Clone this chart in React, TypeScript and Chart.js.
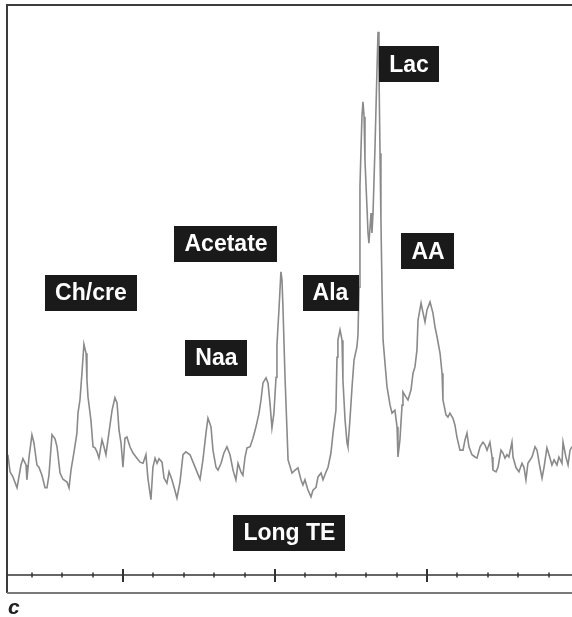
import React, { useEffect, useRef } from "react";
import { Chart, registerables } from "chart.js";

Chart.register(...registerables);

// Chemical shift (ppm) of each sample, left to right
const ppm = [
  3.757, 3.743, 3.724, 3.697, 3.671, 3.658, 3.638, 3.632, 3.618, 3.599,
  3.586, 3.566, 3.553, 3.533, 3.513, 3.5, 3.487, 3.467, 3.447, 3.434,
  3.414, 3.395, 3.368, 3.355, 3.342, 3.322, 3.303, 3.296, 3.283, 3.27,
  3.257, 3.243, 3.237, 3.23, 3.211, 3.197, 3.184, 3.171, 3.158, 3.138,
  3.125, 3.112, 3.099, 3.072, 3.053, 3.039, 3.026, 3.013, 3.0, 2.987,
  2.974, 2.954, 2.934, 2.908, 2.888, 2.868, 2.849, 2.836, 2.816, 2.803,
  2.789, 2.776, 2.763, 2.743, 2.73, 2.711, 2.697, 2.678, 2.664, 2.645,
  2.625, 2.605, 2.586, 2.559, 2.539, 2.513, 2.493, 2.474, 2.454, 2.441,
  2.421, 2.408, 2.388, 2.375, 2.355, 2.336, 2.316, 2.296, 2.276, 2.257,
  2.243, 2.224, 2.211, 2.197, 2.184, 2.164, 2.145, 2.125, 2.105, 2.092,
  2.079, 2.059, 2.046, 2.033, 2.02, 2.007, 1.993, 1.987, 1.974, 1.961,
  1.954, 1.947, 1.934, 1.921, 1.914, 1.888, 1.868, 1.849, 1.829, 1.816,
  1.803, 1.783, 1.763, 1.75, 1.73, 1.717, 1.697, 1.684, 1.664, 1.651,
  1.632, 1.618, 1.599, 1.592, 1.586, 1.572, 1.559, 1.553, 1.539, 1.526,
  1.52, 1.507, 1.493, 1.48, 1.461, 1.454, 1.447, 1.441, 1.428, 1.421,
  1.414, 1.408, 1.395, 1.388, 1.382, 1.368, 1.362, 1.355, 1.342, 1.329,
  1.322, 1.316, 1.309, 1.303, 1.296, 1.289, 1.263, 1.243, 1.23, 1.211,
  1.197, 1.191, 1.178, 1.164, 1.158, 1.138, 1.125, 1.105, 1.092, 1.079,
  1.066, 1.059, 1.039, 1.026, 1.013, 1.0, 0.98, 0.961, 0.947, 0.934,
  0.914, 0.901, 0.895, 0.875, 0.862, 0.849, 0.829, 0.816, 0.803, 0.783,
  0.763, 0.75, 0.737, 0.724, 0.704, 0.684, 0.671, 0.651, 0.632, 0.618,
  0.605, 0.586, 0.572, 0.566, 0.546, 0.533, 0.513, 0.5, 0.487, 0.474,
  0.461, 0.441, 0.434, 0.414, 0.395, 0.375, 0.362, 0.349, 0.336, 0.309,
  0.289, 0.276, 0.257, 0.243, 0.23, 0.211, 0.197, 0.178, 0.164, 0.145,
  0.132, 0.112, 0.105, 0.086, 0.072, 0.059, 0.046,
];

// Signal intensity (arbitrary units, 0-100)
const intensity = [
  21.1, 18.1, 17.2, 15.3, 19.3, 20.4, 19.3, 16.7, 20.7, 24.6,
  23.2, 19.3, 18.9, 17.5, 15.3, 15.3, 17.5, 24.6, 23.9, 22.5,
  17.9, 16.8, 16.3, 15.3, 18.4, 21.6, 24.9, 28.4, 30.7, 35.4,
  40.5, 38.9, 34.2, 31.2, 27.2, 22.5, 22.3, 21.6, 20.5, 23.7,
  22.5, 21.1, 23.7, 28.9, 31.1, 30.2, 25.4, 23.2, 18.9, 24.0,
  24.2, 22.5, 21.4, 20.5, 19.8, 19.6, 21.1, 17.0, 13.2, 18.9,
  20.5, 19.6, 20.4, 19.8, 17.0, 16.1, 18.1, 16.7, 15.4, 13.5,
  16.3, 21.1, 21.6, 21.1, 19.8, 18.1, 16.8, 20.2, 24.9, 27.5,
  26.0, 21.9, 18.9, 18.4, 19.6, 21.4, 22.5, 21.1, 18.4, 16.7,
  19.6, 18.1, 17.5, 20.7, 22.3, 22.5, 24.0, 26.0, 28.4, 30.7,
  33.7, 34.6, 33.7, 30.2, 25.8, 28.4, 34.7, 40.4, 46.5, 53.2,
  51.8, 46.5, 34.7, 25.4, 20.2, 17.9, 18.4, 18.8, 16.7, 15.8,
  16.7, 14.9, 13.7, 14.9, 15.4, 17.2, 17.9, 16.7, 18.1, 18.9,
  21.4, 24.9, 28.9, 38.2, 41.2, 43.0, 41.2, 34.2, 27.2, 23.2,
  22.5, 27.2, 33.0, 37.7, 40.0, 42.1, 50.5, 68.1, 80.4, 83.0,
  80.4, 72.8, 64.6, 60.0, 58.2, 63.5, 60.0, 63.5, 75.1, 88.6,
  95.3, 88.6, 74.0, 62.3, 50.5, 41.2, 33.0, 29.8, 28.4, 28.9,
  26.0, 20.7, 23.7, 29.8, 32.1, 31.2, 30.7, 32.5, 35.4, 36.5,
  39.5, 44.7, 47.7, 46.0, 44.4, 46.5, 47.9, 46.0, 43.5, 41.8,
  38.9, 35.4, 30.7, 28.1, 27.7, 28.4, 27.5, 26.3, 24.2, 21.9,
  21.9, 23.7, 24.9, 22.5, 21.1, 20.7, 20.5, 22.5, 23.3, 22.8,
  21.9, 23.3, 20.7, 18.4, 18.1, 18.9, 21.9, 21.4, 20.5, 21.1,
  20.7, 23.3, 20.7, 18.8, 18.1, 19.6, 18.9, 16.7, 19.6, 20.7,
  22.5, 21.9, 18.9, 17.0, 18.9, 22.3, 21.1, 19.3, 20.2, 19.3,
  20.7, 19.6, 23.3, 20.7, 19.3, 21.9, 22.5,
];

// Axis tick positions (ppm)
const majorTicks = [3, 2, 1];
const minorTicks = [3.6, 3.4, 3.2, 2.8, 2.6, 2.4, 2.2, 1.8, 1.6, 1.4, 1.2, 0.8, 0.6, 0.4, 0.2];

// Peak annotation texts and their anchors (ppm, intensity)
const labelTexts = ["Ch/cre", "Acetate", "Naa", "Ala", "Lac", "AA", "Long TE"];
const labelPpm = [3.211, 2.322, 2.385, 1.635, 1.118, 0.993, 1.905];
const labelIntensity = [49.5, 58.1, 38.1, 49.5, 89.6, 56.8, 7.4];

const panelLetter = "c";

const overlayPlugin = {
  id: "overlay",
  afterDatasetsDraw(chart: any) {
    const { ctx, chartArea: a, scales } = chart;
    const x = scales.x;
    const y = scales.y;
    const frameBottom = a.bottom + 18;
    ctx.save();
    // frame
    ctx.strokeStyle = "#3c3c3c";
    ctx.lineWidth = 2;
    ctx.beginPath();
    ctx.moveTo(a.left, frameBottom);
    ctx.lineTo(a.left, a.top);
    ctx.lineTo(a.right + 2, a.top);
    ctx.stroke();
    // axis line
    ctx.strokeStyle = "#333";
    ctx.lineWidth = 1.6;
    ctx.beginPath();
    ctx.moveTo(a.left, a.bottom);
    ctx.lineTo(a.right + 2, a.bottom);
    ctx.stroke();
    // bottom frame line
    ctx.strokeStyle = "#7a7a7a";
    ctx.lineWidth = 2;
    ctx.beginPath();
    ctx.moveTo(a.left, frameBottom);
    ctx.lineTo(a.right + 2, frameBottom);
    ctx.stroke();
    // ticks
    ctx.strokeStyle = "#333";
    ctx.lineWidth = 2;
    majorTicks.forEach((v) => {
      const px = Math.round(x.getPixelForValue(v));
      ctx.beginPath();
      ctx.moveTo(px, a.bottom - 6);
      ctx.lineTo(px, a.bottom + 7);
      ctx.stroke();
    });
    ctx.lineWidth = 1.5;
    minorTicks.forEach((v) => {
      const px = Math.round(x.getPixelForValue(v));
      ctx.beginPath();
      ctx.moveTo(px, a.bottom - 2.5);
      ctx.lineTo(px, a.bottom + 2.5);
      ctx.stroke();
    });
    // labels
    ctx.font = "bold 23px 'Liberation Sans', Arial, sans-serif";
    ctx.textAlign = "center";
    ctx.textBaseline = "middle";
    labelTexts.forEach((t, i) => {
      const cx = x.getPixelForValue(labelPpm[i]);
      const cy = y.getPixelForValue(labelIntensity[i]);
      const w = ctx.measureText(t).width + 20;
      const h = 36;
      ctx.fillStyle = "#1a1a1a";
      ctx.fillRect(Math.round(cx - w / 2), Math.round(cy - h / 2), Math.round(w), h);
      ctx.fillStyle = "#ffffff";
      ctx.fillText(t, cx, cy + 1);
    });
    // panel letter
    ctx.fillStyle = "#222";
    ctx.font = "italic bold 21px 'Liberation Sans', Arial, sans-serif";
    ctx.textAlign = "left";
    ctx.textBaseline = "alphabetic";
    ctx.fillText(panelLetter, a.left + 1, frameBottom + 21);
    ctx.restore();
  },
};

export default function App() {
  const ref = useRef<HTMLCanvasElement | null>(null);
  useEffect(() => {
    if (!ref.current) return;
    const points = ppm.map((p, i) => ({ x: p, y: intensity[i] }));
    const chart = new Chart(ref.current, {
      type: "line",
      data: {
        datasets: [
          {
            data: points,
            borderColor: "#8a8a8a",
            borderWidth: 1.6,
            pointRadius: 0,
            tension: 0,
            fill: false,
          },
        ],
      },
      options: {
        animation: false,
        responsive: false,
        maintainAspectRatio: false,
        parsing: true,
        layout: { padding: { left: 7, top: 5, right: 0, bottom: 42 } },
        plugins: { legend: { display: false }, tooltip: { enabled: false } },
        scales: {
          x: { type: "linear", reverse: true, min: 0.046, max: 3.763, display: false },
          y: { type: "linear", min: 0, max: 100, display: false },
        },
      },
      plugins: [overlayPlugin],
    });
    return () => chart.destroy();
  }, []);
  return (
    <div style={{ position: "absolute", left: 0, top: 0, width: 572, height: 617, background: "#fff" }}>
      <canvas ref={ref} width={572} height={617} style={{ display: "block" }} />
    </div>
  );
}
